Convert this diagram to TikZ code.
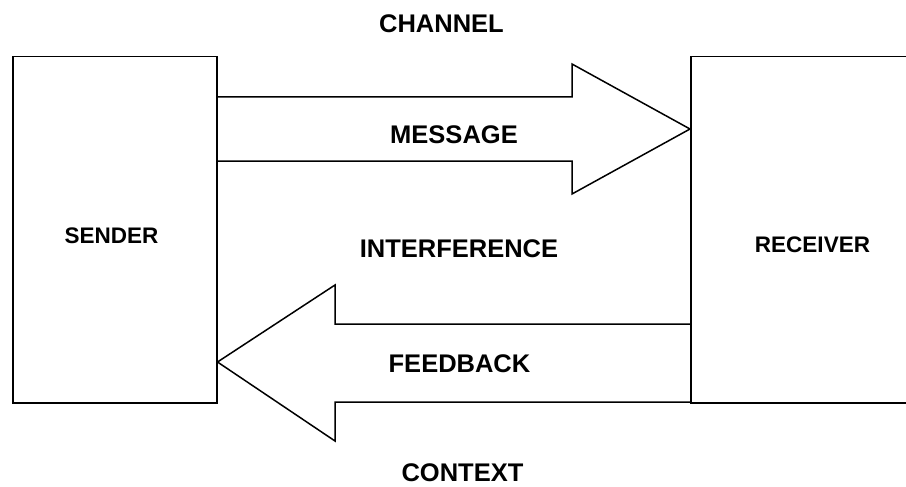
\documentclass[tikz,border=0pt]{standalone}
\usepackage{fontspec}
\setmainfont{Liberation Sans}
\usetikzlibrary{positioning}

\begin{document}
\begin{tikzpicture}[x=1pt,y=-1pt,
  box/.style={draw,line width=1.5pt,anchor=north west,minimum width=204pt,minimum height=346pt,inner sep=0pt},
  boxtext/.style={inner sep=0pt,font=\fontsize{22.5}{27}\selectfont\bfseries},
  lbl/.style={inner sep=0pt,font=\fontsize{25.5}{30}\selectfont\bfseries},
  blockarrow/.style={draw,line width=1.5pt,line join=miter}]
\useasboundingbox [fill=white] (0,0) rectangle (906,487);
% boxes
\node [box] (sender) at (12,56) {};
\node [box,minimum width=240pt] (receiver) at (690,56) {};
\node [boxtext] (sendertext) at (111.5,236) {SENDER};
\node [boxtext] (receivertext) at (812.5,245) {RECEIVER};
% levels of the arrows
\coordinate (msgtop) at (0,97);
\coordinate (msgbot) at (0,161);
\coordinate (msgtip) at (0,129);
\coordinate (fbtop) at (0,324);
\coordinate (fbbot) at (0,402);
\coordinate (fbtip) at (0,362);
% message arrow
\draw [blockarrow] (sender.east |- msgtop) -- (572,97) -- (572,64) -- (receiver.west |- msgtip)
  -- (572,194) -- (572,161) -- (sender.east |- msgbot);
% feedback arrow
\draw [blockarrow] (receiver.west |- fbtop) -- (335,324) -- (335,285) -- (sender.east |- fbtip)
  -- (335,441) -- (335,402) -- (receiver.west |- fbbot);
% labels
\node [lbl] (channel) at (441.5,23.5) {CHANNEL};
\node [lbl] (message) at (454,134.5) {MESSAGE};
\node [lbl] (interference) at (459,249) {INTERFERENCE};
\node [lbl] (feedback) at (459.5,364) {FEEDBACK};
\node [lbl] (context) at (462.5,472.5) {CONTEXT};
\end{tikzpicture}
\end{document}
